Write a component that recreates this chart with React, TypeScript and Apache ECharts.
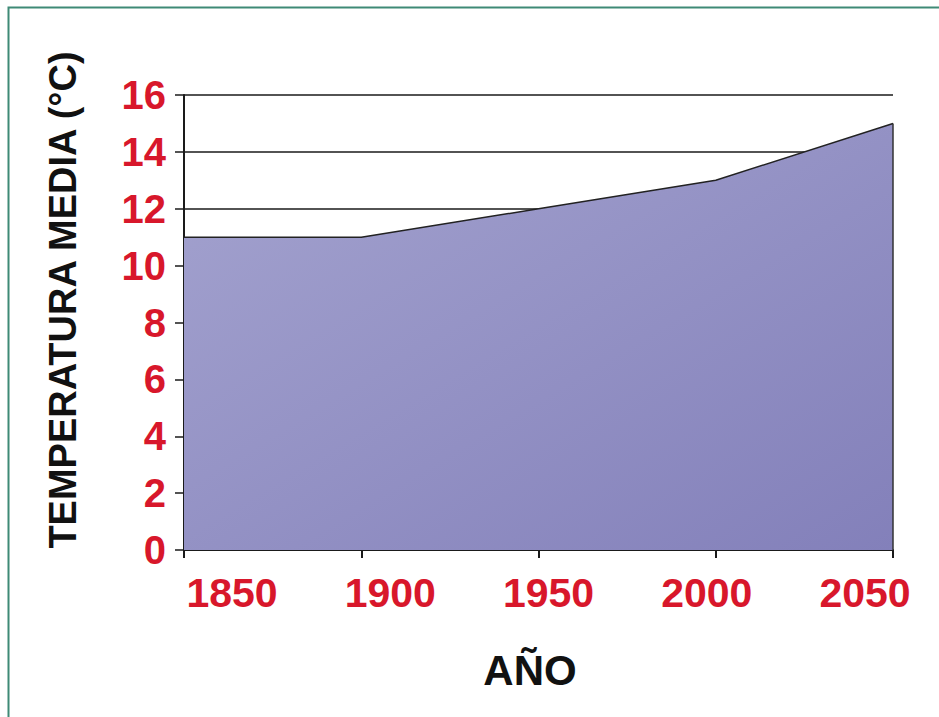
import React, { useEffect, useRef } from "react";
import * as echarts from "echarts";

const years = [1850, 1900, 1950, 2000, 2050];
const temps = [11, 11, 12, 13, 15];
const yTicks = [0, 2, 4, 6, 8, 10, 12, 14, 16];
const yAxisTitle = "TEMPERATURA MEDIA (°C)";
const xAxisTitle = "AÑO";

const FONT = "'Liberation Sans', Arial, sans-serif";
const RED = "#d8172b";

export default function App() {
  const ref = useRef<HTMLDivElement>(null);
  useEffect(() => {
    if (!ref.current) return;
    const chart = echarts.init(ref.current, undefined, { renderer: "svg" });
    const data = years.map((y, i) => [y, temps[i]]);
    chart.setOption({
      animation: false,
      backgroundColor: "#ffffff",
      grid: [
        { left: 184, right: 46, top: 95, bottom: 167 },
        { left: 232, right: 74, top: 95, bottom: 167 },
      ],
      xAxis: [
        {
          type: "value",
          gridIndex: 0,
          min: years[0],
          max: years[years.length - 1],
          interval: 50,
          axisLine: { show: true, onZero: false, lineStyle: { color: "#1a1a1a", width: 2 } },
          axisTick: { show: true, length: 8, lineStyle: { color: "#1a1a1a", width: 2 } },
          axisLabel: { show: false },
          splitLine: { show: false },
        },
        {
          type: "value",
          gridIndex: 1,
          min: years[0],
          max: years[years.length - 1],
          interval: 50,
          axisLine: { show: false },
          axisTick: { show: false },
          splitLine: { show: false },
          axisLabel: {
            show: true,
            margin: 22,
            color: RED,
            fontFamily: FONT,
            fontWeight: "bold",
            fontSize: 41,
            formatter: (v: number) => String(v),
          },
        },
      ],
      yAxis: [
        {
          type: "value",
          gridIndex: 0,
          min: yTicks[0],
          max: yTicks[yTicks.length - 1],
          interval: 2,
          axisLine: { show: true, lineStyle: { color: "#1a1a1a", width: 2 } },
          axisTick: { show: true, length: 9, lineStyle: { color: "#1a1a1a", width: 1.5 } },
          axisLabel: {
            margin: 18,
            color: RED,
            fontFamily: FONT,
            fontWeight: "bold",
            fontSize: 40,
          },
          splitLine: { show: true, lineStyle: { color: "#1a1a1a", width: 1.5 } },
        },
        {
          type: "value",
          gridIndex: 1,
          min: 0,
          max: 16,
          show: false,
        },
      ],
      graphic: [
        {
          type: "rect",
          shape: { x: 8.5, y: 7.5, width: 1200, height: 1200 },
          style: { fill: "none", stroke: "#3f8a76", lineWidth: 2 },
          silent: true,
          z: 100,
        },
        {
          type: "text",
          x: 63,
          y: 300,
          rotation: Math.PI / 2,
          style: {
            text: yAxisTitle,
            fill: "#111111",
            font: `bold 38px ${FONT}`,
            textAlign: "center",
            textVerticalAlign: "middle",
          },
        },
        {
          type: "text",
          x: 530,
          y: 670,
          style: {
            text: xAxisTitle,
            fill: "#111111",
            font: `bold 42px ${FONT}`,
            textAlign: "center",
            textVerticalAlign: "middle",
          },
        },
      ],
      series: [
        {
          type: "line",
          xAxisIndex: 0,
          yAxisIndex: 0,
          data,
          symbol: "none",
          lineStyle: { color: "#222222", width: 1.5 },
          areaStyle: {
            opacity: 1,
            color: new echarts.graphic.LinearGradient(0, 0, 1, 1, [
              { offset: 0, color: "#a4a3cf" },
              { offset: 1, color: "#8380ba" },
            ]),
          },
          markLine: {
            silent: true,
            symbol: "none",
            label: { show: false },
            lineStyle: { color: "#333333", width: 1.5, type: "solid" },
            data: [
              [
                { coord: [years[years.length - 1], 0] },
                { coord: [years[years.length - 1], temps[temps.length - 1]] },
              ],
            ],
          },
        },
      ],
    });
    return () => chart.dispose();
  }, []);
  return (
    <div
      ref={ref}
      style={{ position: "fixed", left: 0, top: 0, width: 939, height: 717 }}
    />
  );
}
